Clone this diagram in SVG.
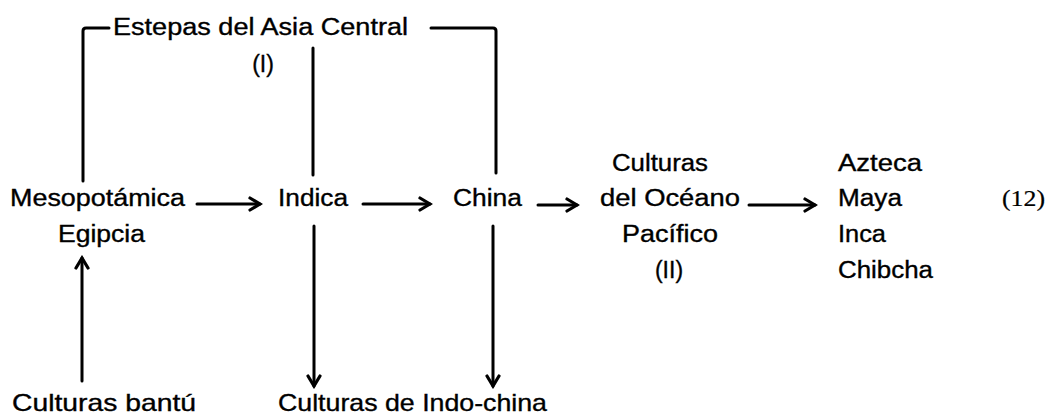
<svg xmlns="http://www.w3.org/2000/svg" width="1049" height="418" viewBox="0 0 1049 418">
<style>
text{font-family:"Liberation Sans",Arial,sans-serif;font-size:23px;fill:#000;stroke:#000;stroke-width:0.35px}
.big{font-size:24px}
.serif{font-family:"Liberation Serif","Times New Roman",serif;stroke-width:0.2px}
.ln{fill:none;stroke:#000;stroke-width:3;stroke-linecap:round;stroke-linejoin:round}
</style>
<defs>
<marker id="ah" viewBox="0 0 16 16" refX="13" refY="8" markerWidth="16" markerHeight="16" markerUnits="userSpaceOnUse" orient="auto">
<path d="M3,2 L13,8 L3,14" fill="none" stroke="#000" stroke-width="3.2" stroke-linecap="round" stroke-linejoin="miter"/>
</marker>
</defs>
<rect width="1049" height="418" fill="#fff"/>
<g id="connectors">
<path class="ln" d="M109,28 L86,28 Q83,28 83,31 L83,181"/>
<path class="ln" d="M431,28 L493,28 Q496,28 496,31 L496,173"/>
<path class="ln" d="M313,48 L313,175"/>
<path class="ln" d="M197,204 L260,204" marker-end="url(#ah)"/>
<path class="ln" d="M363,204 L430,204" marker-end="url(#ah)"/>
<path class="ln" d="M538,205 L577,205" marker-end="url(#ah)"/>
<path class="ln" d="M749,205 L815,205" marker-end="url(#ah)"/>
<path class="ln" d="M82,381 L82,258" marker-end="url(#ah)"/>
<path class="ln" d="M314,226 L314,386" marker-end="url(#ah)"/>
<path class="ln" d="M493,226 L493,386" marker-end="url(#ah)"/>
</g>
<g id="estepas">
<text x="113" y="35" textLength="295" lengthAdjust="spacingAndGlyphs">Estepas del Asia Central</text>
<text x="263" y="72" text-anchor="middle">(I)</text>
</g>
<g id="mesopotamica">
<text x="10" y="206" textLength="175" lengthAdjust="spacingAndGlyphs">Mesopotámica</text>
<text x="58" y="242" textLength="87" lengthAdjust="spacingAndGlyphs">Egipcia</text>
</g>
<g id="indica">
<text x="278" y="206" textLength="70" lengthAdjust="spacingAndGlyphs">Indica</text>
</g>
<g id="china">
<text x="453" y="206" textLength="69" lengthAdjust="spacingAndGlyphs">China</text>
</g>
<g id="oceano">
<text x="612" y="171" textLength="96" lengthAdjust="spacingAndGlyphs">Culturas</text>
<text x="600" y="206" textLength="140" lengthAdjust="spacingAndGlyphs">del Océano</text>
<text x="622" y="242" textLength="96" lengthAdjust="spacingAndGlyphs">Pacífico</text>
<text x="669" y="278" text-anchor="middle">(II)</text>
</g>
<g id="america">
<text x="838" y="171" textLength="84" lengthAdjust="spacingAndGlyphs">Azteca</text>
<text x="838" y="206" textLength="64" lengthAdjust="spacingAndGlyphs">Maya</text>
<text x="838" y="242" textLength="48" lengthAdjust="spacingAndGlyphs">Inca</text>
<text x="838" y="278" textLength="95" lengthAdjust="spacingAndGlyphs">Chibcha</text>
</g>
<g id="ref">
<text class="serif" x="1002" y="206" textLength="43" lengthAdjust="spacingAndGlyphs">(12)</text>
</g>
<g id="bantu">
<text class="big" x="12" y="411" textLength="184" lengthAdjust="spacingAndGlyphs">Culturas bantú</text>
</g>
<g id="indochina">
<text class="big" x="278" y="411" textLength="269" lengthAdjust="spacingAndGlyphs">Culturas de Indo-china</text>
</g>
</svg>
